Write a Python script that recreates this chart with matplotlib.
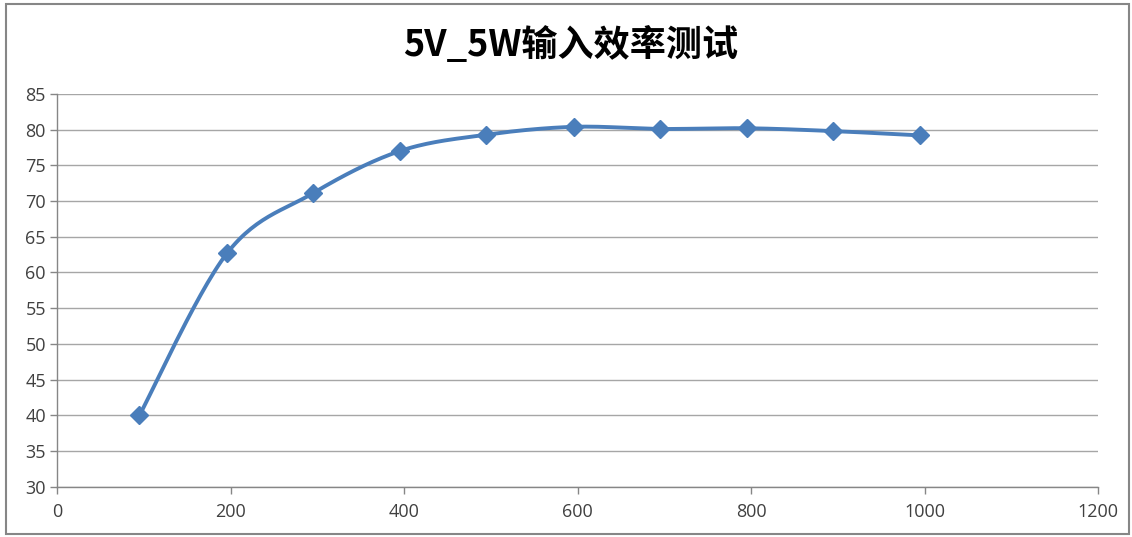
import numpy as np
import matplotlib
matplotlib.use("Agg")
import matplotlib.pyplot as plt
from matplotlib.patches import Rectangle

# 输入效率测试数据
load = [95, 196, 295, 395, 495, 596, 695, 795, 895, 995]
efficiency = [40.0, 62.7, 71.1, 77.0, 79.3, 80.4, 80.1, 80.2, 79.8, 79.2]
x_ticks = [0, 200, 400, 600, 800, 1000, 1200]
y_ticks = [30, 35, 40, 45, 50, 55, 60, 65, 70, 75, 80, 85]
title = "5V_5W输入效率测试"

line_color = "#4a7ebb"
grid_color = "#a6a6a6"

plt.rcParams['font.family'] = ['Noto Sans CJK SC', 'DejaVu Sans']

fig = plt.figure(figsize=(11.32, 5.37), dpi=100)
ax = fig.add_axes([0.0504, 0.0937, 0.9196, 0.7313])

# outer chart frame
fig.patches.append(Rectangle((0.005, 0.005), 0.992, 0.988, transform=fig.transFigure,
                             fill=False, edgecolor="#868686", linewidth=1.5))

ax.set_xlim(0, 1200)
ax.set_ylim(30, 85)


def smooth_curve(xs, ys, n=30):
    # Catmull-Rom style smoothing (like Excel smoothed line), done in pixel-ish space
    sx = 1041.0 / 1200
    sy = 392.7 / 55
    px = np.array(xs) * sx
    py = (np.array(ys) - 30) * sy
    pts = np.column_stack([px, py])
    out = [pts[0]]
    for i in range(len(pts) - 1):
        p0 = pts[i - 1] if i > 0 else pts[i]
        p1 = pts[i]
        p2 = pts[i + 1]
        p3 = pts[i + 2] if i + 2 < len(pts) else pts[i + 1]
        c1 = p1 + (p2 - p0) / 6.0
        c2 = p2 - (p3 - p1) / 6.0
        t = np.linspace(0, 1, n)[1:, None]
        seg = ((1 - t) ** 3) * p1 + 3 * ((1 - t) ** 2) * t * c1 + 3 * (1 - t) * t ** 2 * c2 + t ** 3 * p2
        out.extend(seg)
    out = np.array(out)
    return out[:, 0] / sx, out[:, 1] / sy + 30


cx, cy = smooth_curve(load, efficiency)
ax.plot(cx, cy, color=line_color, linewidth=2.8, solid_capstyle='round', zorder=3)
ax.plot(load, efficiency, linestyle='none', marker='D', markersize=9,
        color=line_color, markeredgecolor=line_color, zorder=4)

ax.set_xticks(x_ticks)
ax.set_yticks(y_ticks)
ax.set_xticklabels([str(v) for v in x_ticks], family=['Open Sans', 'DejaVu Sans'])
ax.set_yticklabels([str(v) for v in y_ticks], family=['Open Sans', 'DejaVu Sans'])
ax.tick_params(axis='both', labelsize=13, colors="#868686", labelcolor="#404040",
               length=5, width=1, direction='out')
ax.tick_params(axis='x', pad=7)
ax.tick_params(axis='y', pad=3)

ax.grid(axis='y', color=grid_color, linewidth=1)
ax.set_axisbelow(True)
for side in ['top', 'right']:
    ax.spines[side].set_visible(False)
for side in ['left', 'bottom']:
    ax.spines[side].set_color("#868686")
    ax.spines[side].set_linewidth(1)

fig.text(0.504, 0.915, title, ha='center', va='center', fontsize=26,
         fontweight='bold', color="#000000")

fig.savefig("out.png", dpi=100, facecolor='white')
